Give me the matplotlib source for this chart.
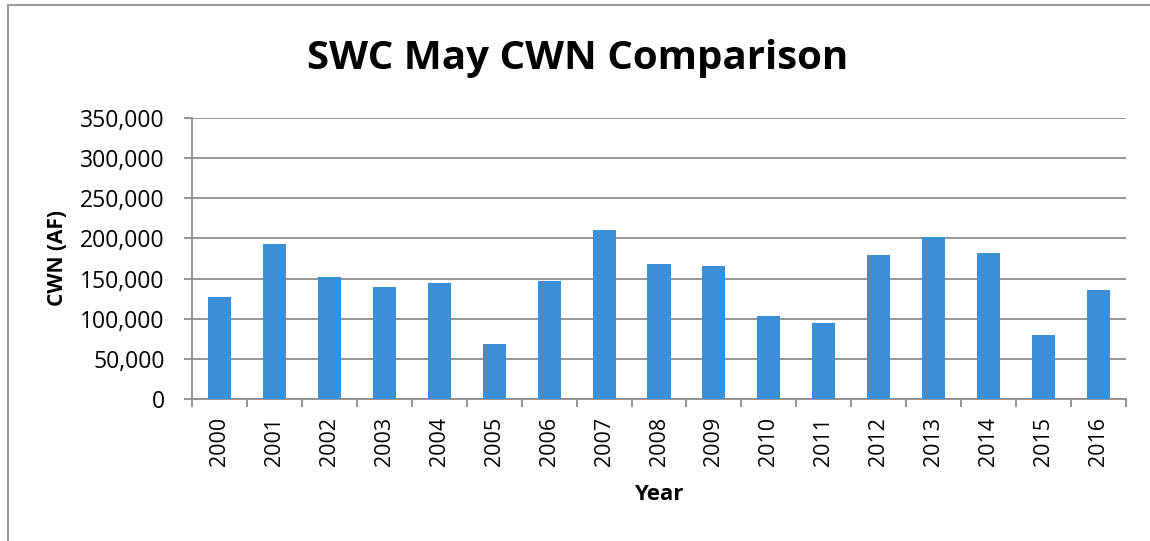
import matplotlib.pyplot as plt
from matplotlib.patches import Rectangle
from matplotlib.ticker import FuncFormatter, FixedLocator
import numpy as np

years = [str(y) for y in range(2000, 2017)]
cwn = [126700, 192500, 152500, 140000, 145000, 68300, 147500, 210000,
       167900, 165400, 102900, 94600, 178750, 202100, 182100, 79200, 135800]

plt.rcParams['font.family'] = ['Open Sans', 'DejaVu Sans']

fig = plt.figure(figsize=(11.5, 5.41), dpi=100)
ax = fig.add_axes([192 / 1150, 1 - 399 / 541, (1126 - 192) / 1150, (399 - 118) / 541])

# frame around the chart
fig.patches.append(Rectangle((8 / 1150, -0.05), 1.1, 1 - 5 / 541 + 0.05,
                             transform=fig.transFigure, fill=False,
                             edgecolor='#9a9a9a', linewidth=1.5))

x = np.arange(len(years))
ax.bar(x, cwn, width=0.42, color='#3a8fd6', zorder=3)

ax.set_xlim(-0.5, len(years) - 0.5)
ax.set_ylim(0, 350000)
ax.set_yticks(np.arange(0, 350001, 50000))
ax.yaxis.set_major_formatter(FuncFormatter(lambda v, p: f"{int(v):,}"))
ax.grid(axis='y', color='#8c8c8c', linewidth=1.3, zorder=0)

ax.set_xticks(x)
ax.set_xticklabels(years, rotation=90)
ax.xaxis.set_minor_locator(FixedLocator(np.arange(-0.5, len(years), 1)))
ax.tick_params(axis='x', which='major', length=0, pad=13, labelsize=15.5)
ax.tick_params(axis='x', which='minor', length=5.5, color='#8c8c8c', width=1.3)
ax.tick_params(axis='y', length=6, color='#8c8c8c', width=1.3, labelsize=16.5, pad=13.5)

for side in ['top', 'right']:
    ax.spines[side].set_visible(False)
ax.spines['left'].set_color('#8c8c8c')
ax.spines['bottom'].set_color('#8c8c8c')
ax.spines['left'].set_linewidth(1.3)
ax.spines['bottom'].set_linewidth(1.3)

ax.set_ylabel("CWN (AF)", fontsize=15, fontweight='bold', labelpad=9)
ax.set_xlabel("Year", fontsize=16, fontweight='bold', labelpad=13)

fig.text(578 / 1150, 1 - 59 / 541, "SWC May CWN Comparison", fontsize=29,
         fontweight='bold', ha='center', va='center')

fig.savefig("out.png", dpi=100)
